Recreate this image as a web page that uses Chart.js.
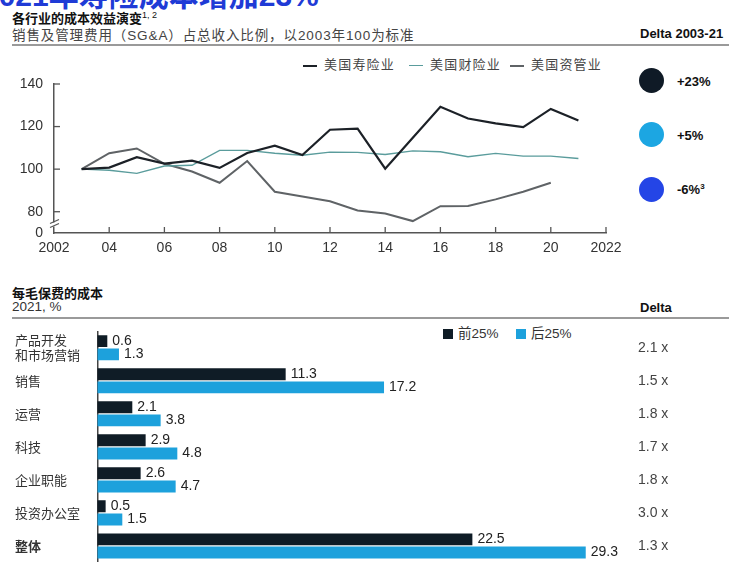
<!DOCTYPE html>
<html lang="zh">
<head>
<meta charset="UTF-8">
<title>各行业的成本效益演变</title>
<script src="https://cdn.jsdelivr.net/npm/chart.js"></script>
<style>
    body {
        margin: 0;
        width: 729px;
        height: 562px;
        overflow: hidden;
        position: relative;
        background: #ffffff;
        font-family: 'Liberation Sans', 'Noto Sans CJK SC', sans-serif;
        color: #222;
    }
    .abs { position: absolute; white-space: nowrap; }
    .big-title { left: -18px; top: -29px; font-size: 30px; font-weight: bold; color: #1f3bd6; }
    .h-bold { font-weight: bold; font-size: 13px; color: #111; }
    .h-sub { font-size: 13.5px; color: #444; letter-spacing: 0.9px; }
    .rule { position: absolute; left: 12px; right: 0; height: 2px; background: #9a9a9a; }
    .legend-line { display: inline-block; width: 14px; height: 2px; vertical-align: middle; margin-right: 7px; }
    .legend-item { font-size: 13px; color: #444; letter-spacing: 1.2px; }
    .dot { position: absolute; width: 25px; height: 25px; border-radius: 50%; }
    .dot-label { font-weight: bold; font-size: 13px; color: #111; }
    .sq { display: inline-block; width: 10px; height: 10px; vertical-align: -1px; margin-right: 5px; }
    canvas { position: absolute; }
</style>
</head>
<body>
<div class="abs big-title">2021年寿险成本增加23%</div>

<div class="abs h-bold" style="left:12px; top:8px;">各行业的成本效益演变<sup style="font-weight:normal;font-size:9px;">1, 2</sup></div>
<div class="abs h-sub" style="left:12px; top:24px;">销售及管理费用（SG&amp;A）占总收入比例，以2003年100为标准</div>
<div class="abs h-bold" style="left:640px; top:26px;">Delta 2003-21</div>
<div class="rule" style="top:44px;"></div>

<div class="abs legend-item" style="left:303px; top:54px;"><span class="legend-line" style="background:#1c2127;"></span>美国寿险业</div>
<div class="abs legend-item" style="left:409px; top:54px;"><span class="legend-line" style="background:#5a9c9c;height:1px;"></span>美国财险业</div>
<div class="abs legend-item" style="left:510px; top:54px;"><span class="legend-line" style="background:#5f6366;"></span>美国资管业</div>

<div class="dot" style="left:639px; top:68px; background:#0f1a26;"></div>
<div class="abs dot-label" style="left:677px; top:74px;">+23%</div>
<div class="dot" style="left:639px; top:122px; background:#1ca6e2;"></div>
<div class="abs dot-label" style="left:677px; top:128px;">+5%</div>
<div class="dot" style="left:639px; top:177px; background:#2445e6;"></div>
<div class="abs dot-label" style="left:677px; top:182px;">-6%<sup style="font-size:8px;">3</sup></div>

<div class="abs h-bold" style="left:12px; top:283px;">每毛保费的成本</div>
<div class="abs" style="left:12px; top:299px; font-size:13.5px; color:#333;">2021, %</div>
<div class="abs h-bold" style="left:640px; top:300px;">Delta</div>
<div class="rule" style="top:317px;"></div>

<div class="abs" style="left:443px; top:322px; font-size:13.5px; color:#333;"><span class="sq" style="background:#0f1c26;"></span>前25%</div>
<div class="abs" style="left:516px; top:322px; font-size:13.5px; color:#333;"><span class="sq" style="background:#1da1dc;"></span>后25%</div>

<canvas id="lineChart" width="729" height="220" style="left:0; top:44px;"></canvas>
<canvas id="barChart" width="729" height="260" style="left:0; top:320px;"></canvas>

<script>
// ---- line chart data (SG&A as % of revenue, 2003 = 100)
const years = [2003, 2004, 2005, 2006, 2007, 2008, 2009, 2010, 2011, 2012, 2013, 2014, 2015, 2016, 2017, 2018, 2019, 2020, 2021];
const lifeIns = [100, 100.7, 105.6, 102.6, 104, 100.6, 107.6, 111, 106.6, 118.5, 119, 100.2, 114.7, 129.3, 123.8, 121.5, 119.7, 128.3, 122.8];
const propIns = [100, 99.5, 98, 101.5, 101.8, 108.8, 108.8, 107.5, 106.5, 108, 107.9, 106.9, 108.6, 108.2, 105.8, 107.4, 106.1, 106.1, 105];
const assetMgmt = [100, 107.5, 109.7, 102.5, 98.9, 93.6, 103.8, 89.4, 87.1, 84.9, 80.6, 79.2, 75.6, 82.6, 82.7, 85.8, 89.4, 93.6, null];
const yTickValues = [70, 80, 100, 120, 140];

// ---- bar chart data (cost per gross premium, 2021, %)
const costCategories = [['产品开发', '和市场营销'], '销售', '运营', '科技', '企业职能', '投资办公室', '整体'];
const top25 = [0.6, 11.3, 2.1, 2.9, 2.6, 0.5, 22.5];
const bottom25 = [1.3, 17.2, 3.8, 4.8, 4.7, 1.5, 29.3];
const deltaLabels = ['2.1 x', '1.5 x', '1.8 x', '1.7 x', '1.8 x', '3.0 x', '1.3 x'];

const latin = "'Liberation Sans', 'Noto Sans CJK SC', sans-serif";

function toPoints(values) {
    return years.map((y, i) => ({ x: y, y: values[i] }));
}

// small inward tick marks + axis break symbol
const innerTicks = {
    id: 'innerTicks',
    afterDraw(chart) {
        const { ctx, scales: { x, y } } = chart;
        ctx.save();
        ctx.strokeStyle = '#555';
        ctx.lineWidth = 1.3;
        x.ticks.forEach(t => {
            if (t.value === 2002) return;
            const px = x.getPixelForValue(t.value);
            ctx.beginPath();
            ctx.moveTo(px, y.bottom);
            ctx.lineTo(px, y.bottom - 6);
            ctx.stroke();
        });
        y.ticks.forEach(t => {
            if (t.value === 70) return;
            const py = y.getPixelForValue(t.value);
            ctx.beginPath();
            ctx.moveTo(x.left, py);
            ctx.lineTo(x.left + 6, py);
            ctx.stroke();
        });
        // axis break
        const bx = x.left;
        const by = y.getPixelForValue(74);
        ctx.fillStyle = '#fff';
        ctx.fillRect(bx - 2, by - 2, 4, 4);
        ctx.beginPath();
        ctx.moveTo(bx - 4, by - 1);
        ctx.lineTo(bx + 5, by - 5);
        ctx.moveTo(bx - 4, by + 3);
        ctx.lineTo(bx + 5, by - 1);
        ctx.stroke();
        ctx.restore();
    }
};

new Chart(document.getElementById('lineChart'), {
    type: 'line',
    data: {
        datasets: [
            { label: '美国寿险业', data: toPoints(lifeIns), borderColor: '#1c2127', borderWidth: 2.2 },
            { label: '美国财险业', data: toPoints(propIns), borderColor: '#5a9c9c', borderWidth: 1.4 },
            { label: '美国资管业', data: toPoints(assetMgmt), borderColor: '#5f6366', borderWidth: 2 }
        ]
    },
    options: {
        responsive: false,
        animation: false,
        elements: { point: { radius: 0 }, line: { tension: 0 } },
        layout: { padding: { left: 0, right: 123, top: 40, bottom: 0 } },
        plugins: { legend: { display: false }, tooltip: { enabled: false } },
        scales: {
            x: {
                type: 'linear',
                min: 2002,
                max: 2022,
                afterFit: s => { s.height = 31; },
                grid: { drawOnChartArea: false, drawTicks: false },
                border: { color: '#555', width: 1.5 },
                ticks: {
                    stepSize: 2,
                    padding: 7,
                    color: '#333',
                    font: { family: latin, size: 14 },
                    callback: v => (v === 2002 || v === 2022) ? String(v) : String(v).slice(2)
                }
            },
            y: {
                min: 70,
                max: 140,
                afterFit: s => { s.width = 54; },
                afterBuildTicks: s => { s.ticks = yTickValues.map(v => ({ value: v })); },
                grid: { drawOnChartArea: false, drawTicks: false },
                border: { color: '#555', width: 1.5 },
                ticks: {
                    padding: 11,
                    color: '#333',
                    font: { family: latin, size: 14 },
                    callback: v => v === 70 ? '0' : v
                }
            }
        }
    },
    plugins: [innerTicks]
});

// value labels at bar ends and delta column
const barLabels = {
    id: 'barLabels',
    afterDatasetsDraw(chart) {
        const { ctx } = chart;
        ctx.save();
        ctx.font = '14px ' + latin;
        ctx.fillStyle = '#222';
        ctx.textBaseline = 'middle';
        ctx.textAlign = 'left';
        chart.data.datasets.forEach((ds, di) => {
            chart.getDatasetMeta(di).data.forEach((bar, i) => {
                ctx.fillText(ds.data[i].toFixed(1), bar.x + 5, bar.y);
            });
        });
        const yScale = chart.scales.y;
        ctx.fillStyle = '#444';
        deltaLabels.forEach((t, i) => {
            ctx.fillText(t, 638, yScale.getPixelForValue(i));
        });
        ctx.restore();
    }
};

new Chart(document.getElementById('barChart'), {
    type: 'bar',
    data: {
        labels: costCategories,
        datasets: [
            { label: '前25%', data: top25, backgroundColor: '#0f1c26' },
            { label: '后25%', data: bottom25, backgroundColor: '#1da1dc' }
        ]
    },
    options: {
        indexAxis: 'y',
        responsive: false,
        animation: false,
        categoryPercentage: 0.8,
        barPercentage: 0.9,
        layout: { padding: { left: 15, right: 131.6, top: 11.25, bottom: 14.25 } },
        plugins: { legend: { display: false }, tooltip: { enabled: false } },
        scales: {
            x: { min: 0, max: 30, display: false },
            y: {
                afterFit: s => { s.width = 82.3; },
                grid: { drawOnChartArea: false, drawTicks: false },
                border: { color: '#444', width: 1.5 },
                ticks: {
                    crossAlign: 'far',
                    color: '#333',
                    font: ctx => ({
                        family: "'Noto Sans CJK SC', sans-serif",
                        size: 13,
                        lineHeight: 1.12,
                        weight: ctx.index === 6 ? 'bold' : 'normal'
                    })
                }
            }
        }
    },
    plugins: [barLabels]
});
</script>
</body>
</html>
